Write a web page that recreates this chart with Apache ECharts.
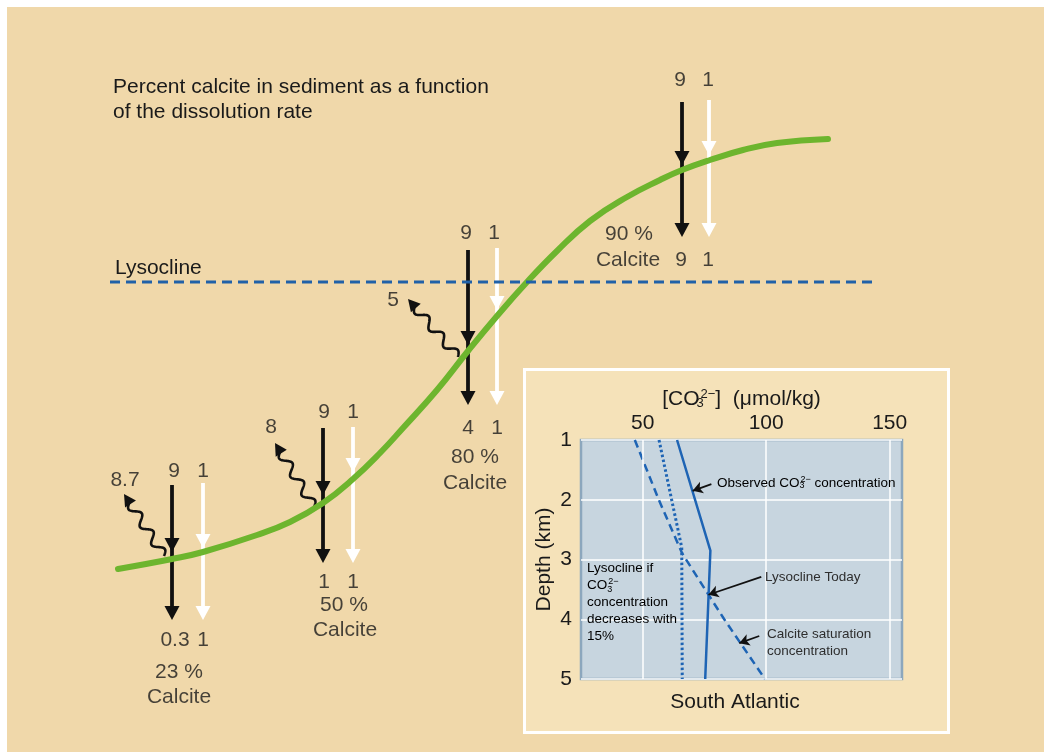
<!DOCTYPE html>
<html><head><meta charset="utf-8">
<script src="https://cdn.jsdelivr.net/npm/echarts@6/dist/echarts.min.js"></script>
<style>html,body{margin:0;padding:0;background:#fff}#c{width:1044px;height:752px}</style>
</head><body><div id="c"></div>
<script>
// ===== Main schematic (schematic canvas units) =====
const curveX = [118,172,203,257,290,323,353,380,403,437,468,497,527,557,590,627,660,682,710,743,777,828];
const curveY = [569,559,552,535,522,503,479,453,428,390,351,316,282,251,221,197,180,170,160,150,143,139];
const lysoclineX = [110, 875];
const lysoclineLevel = 282;
// vertical flux arrows (kind 0 = black, 1 = white)
const arrowX      = [172,203,323,353,468,497,682,709];
const arrowTop    = [485,483,428,427,250,248,102,100];
const arrowMid    = [552,548,495,472,345,310,165,155];
const arrowBottom = [620,620,563,563,405,405,237,237];
const arrowKind   = [0,1,0,1,0,1,0,1];
// dissolution (wavy) arrows: tail -> head
const wavyTailX = [164,314,458], wavyTailY = [556,507,357];
const wavyHeadX = [124,275,408], wavyHeadY = [494,443,299];
// text labels of the schematic
const labelText = ['8.7','9','1','0.3','1','23 %','Calcite',
                   '8','9','1','1','1','50 %','Calcite',
                   '5','9','1','4','1','80 %','Calcite',
                   '9','1','90 %','Calcite','9','1'];
const labelX = [125,174,203,175,203,179,179,
                271,324,353,324,353,344,345,
                393,466,494,468,497,475,475,
                680,708,629,628,681,708];
const labelY = [480,471,471,640,640,672,697,
                427,412,412,582,582,605,630,
                300,233,233,428,428,457,483,
                80,80,234,260,260,260];

// ===== Inset: South Atlantic =====
const co3Ticks = [50,100,150];
const depthTicks = [1,2,3,4,5];
const observedDepth = [1, 2.85, 5];
const observedCO3   = [63.9, 77.4, 75.3];
const saturationDepth = [1, 2, 2.9, 3.6, 4, 5];
const saturationCO3   = [46.8, 56.5, 66, 76.8, 83, 99.5];
const reducedDepth = [1, 2.8, 5];
const reducedCO3   = [56.6, 65.8, 66];
// note arrows in inset: [co3, depth] from -> to
const noteFrom = [[77.8,1.74],[98,3.29],[97.2,4.28]];
const noteTo   = [[70.2,1.85],[76.6,3.59],[89.1,4.4]];

const FONT = 'Liberation Sans, Arial, Helvetica, sans-serif';
const TXT = '#1a1a1a';
const coRich = {
  n:{fontSize:13.5, color:'#2e2e2e', fontFamily:FONT},
  sb:{fontSize:9, color:'#2e2e2e', width:1, verticalAlign:'bottom', padding:[6,0,0,0], fontFamily:FONT},
  sp:{fontSize:9, color:'#2e2e2e', verticalAlign:'top', padding:[0,0,6,0], fontFamily:FONT}
};
const nameRich = {
  b:{fontSize:21, color:TXT, fontFamily:FONT},
  sb:{fontSize:13, color:TXT, width:1, verticalAlign:'bottom', padding:[9,0,0,0], fontFamily:FONT},
  sp:{fontSize:13, color:TXT, verticalAlign:'top', padding:[0,0,9,0], fontFamily:FONT}
};

const chart = echarts.init(document.getElementById('c'));
chart.setOption({
  backgroundColor:'#ffffff',
  animation:false,
  textStyle:{fontFamily:FONT},
  title:{
    text:'Percent calcite in sediment as a function\nof the dissolution rate',
    left:113, top:75, padding:0,
    textStyle:{fontSize:21, fontWeight:'normal', color:TXT, lineHeight:25, fontFamily:FONT}
  },
  graphic:[
    {type:'rect', z:-10, shape:{x:7,y:7,width:1037,height:745}, style:{fill:'#F0D8AA'}},
    {type:'rect', z:-9, shape:{x:524.5,y:369.5,width:424,height:363}, style:{fill:'#F5E2B9', stroke:'#ffffff', lineWidth:3}},
    {type:'text', z:50, style:{x:735, y:702, text:'South Atlantic', fontSize:21, fill:TXT, align:'center', verticalAlign:'middle', fontFamily:FONT}},
    {type:'text', z:50, style:{x:717, y:483, text:'{n|Observed CO}{sb|3}{sp|2−}{n| concentration}', rich:coRich, align:'left', verticalAlign:'middle'}},
    {type:'text', z:50, style:{x:765, y:577, text:'Lysocline Today', fontSize:13.5, fill:'#2e2e2e', align:'left', verticalAlign:'middle', fontFamily:FONT}},
    {type:'text', z:50, style:{x:767, y:643, text:'Calcite saturation\nconcentration', fontSize:13.5, lineHeight:17, fill:'#2e2e2e', align:'left', verticalAlign:'middle', fontFamily:FONT}},
    {type:'text', z:50, style:{x:587, y:560, text:'{n|Lysocline if}\n{n|CO}{sb|3}{sp|2−}\n{n|concentration}\n{n|decreases with}\n{n|15%}', rich:Object.assign({}, coRich, {n:{fontSize:13.5,color:'#2e2e2e',lineHeight:17,fontFamily:FONT}}), align:'left', verticalAlign:'top'}}
  ],
  grid:[
    {left:0, top:0, width:1044, height:752, show:false},
    {left:581, top:440, width:321, height:239, show:true, backgroundColor:'#C7D5DF', borderColor:'#8CA7BD', borderWidth:2.5}
  ],
  xAxis:[
    {gridIndex:0, type:'value', min:0, max:1044, show:false},
    {gridIndex:1, type:'value', position:'top', min:25, max:155, interval:25,
     name:'{b|[CO}{sb|3}{sp|2−}{b|]  (μmol/kg)}', nameLocation:'middle', nameGap:30,
     nameTextStyle:{rich:nameRich},
     axisLine:{show:false}, axisTick:{show:false}, splitLine:{show:false},
     axisLabel:{fontSize:21, color:TXT, margin:6, formatter:function(v){return co3Ticks.indexOf(v)>=0?String(v):'';}}}
  ],
  yAxis:[
    {gridIndex:0, type:'value', min:0, max:752, inverse:true, show:false},
    {gridIndex:1, type:'value', inverse:true, min:1, max:5, interval:1,
     name:'Depth (km)', nameLocation:'middle', nameGap:26, nameRotate:90,
     nameTextStyle:{fontSize:21, color:TXT},
     axisLine:{show:false}, axisTick:{show:false},
     splitLine:{show:true, lineStyle:{color:'#ffffff', width:1.5}},
     axisLabel:{fontSize:21, color:TXT, margin:9, formatter:function(v){return depthTicks.indexOf(v)>=0?String(v):'';}}}
  ],
  series:[
    // ---------- inset ----------
    {type:'line', xAxisIndex:1, yAxisIndex:1, data:[], z:1, silent:true,
     markLine:{silent:true, symbol:['none','none'], label:{show:false},
       lineStyle:{color:'#ffffff', width:1.5, type:'solid'},
       data:co3Ticks.map(function(v){return {xAxis:v};})}},
    {type:'line', name:'Calcite saturation', xAxisIndex:1, yAxisIndex:1, symbol:'none', z:3,
     data:saturationCO3.map(function(v,i){return [v, saturationDepth[i]];}),
     lineStyle:{color:'#1E64B4', width:2.5, type:[8,5]}},
    {type:'line', name:'Lysocline if -15%', xAxisIndex:1, yAxisIndex:1, symbol:'none', z:3,
     data:reducedCO3.map(function(v,i){return [v, reducedDepth[i]];}),
     lineStyle:{color:'#1E64B4', width:3, type:[2.5,2.5]}},
    {type:'line', name:'Observed', xAxisIndex:1, yAxisIndex:1, symbol:'none', z:3,
     data:observedCO3.map(function(v,i){return [v, observedDepth[i]];}),
     lineStyle:{color:'#1E64B4', width:2.5},
     markLine:{silent:true, symbol:['none','arrow'], symbolSize:[9,10], label:{show:false},
       lineStyle:{color:'#111', width:1.8, type:'solid'},
       data:noteFrom.map(function(f,i){return [{coord:f},{coord:noteTo[i]}];})}},
    // ---------- main schematic ----------
    {type:'custom', xAxisIndex:0, yAxisIndex:0, z:4, silent:true,
     data:arrowX.map(function(x,i){return [x, arrowTop[i], arrowMid[i], arrowBottom[i], arrowKind[i]];}),
     renderItem:function(params, api){
       var x = api.value(0);
       var p0 = api.coord([x, api.value(1)]);
       var pm = api.coord([x, api.value(2)]);
       var pb = api.coord([x, api.value(3)]);
       var col = api.value(4) ? '#ffffff' : '#111111';
       var hw = 7.5, hl = 14;
       return {type:'group', children:[
         {type:'line', shape:{x1:p0[0],y1:p0[1],x2:pb[0],y2:pb[1]-hl+2}, style:{stroke:col, lineWidth:3.8}},
         {type:'polygon', shape:{points:[[pm[0]-hw,pm[1]-hl],[pm[0]+hw,pm[1]-hl],[pm[0],pm[1]]]}, style:{fill:col}},
         {type:'polygon', shape:{points:[[pb[0]-hw,pb[1]-hl],[pb[0]+hw,pb[1]-hl],[pb[0],pb[1]]]}, style:{fill:col}}
       ]};
     }},
    {type:'custom', xAxisIndex:0, yAxisIndex:0, z:4, silent:true,
     data:wavyTailX.map(function(x,i){return [x, wavyTailY[i], wavyHeadX[i], wavyHeadY[i]];}),
     renderItem:function(params, api){
       var t = api.coord([api.value(0), api.value(1)]);
       var h = api.coord([api.value(2), api.value(3)]);
       var dx = h[0]-t[0], dy = h[1]-t[1], L = Math.sqrt(dx*dx+dy*dy);
       var ux = dx/L, uy = dy/L, nx = -uy, ny = ux;
       var head = 12, amp = 4.5, periods = 3, Lw = L - head + 2;
       var pts = [];
       for (var k=0;k<=120;k++){
         var s = k/120*Lw, w = amp*Math.sin(2*Math.PI*periods*s/Lw);
         pts.push([t[0]+ux*s+nx*w, t[1]+uy*s+ny*w]);
       }
       var bx = h[0]-ux*head, by = h[1]-uy*head;
       return {type:'group', children:[
         {type:'polyline', shape:{points:pts}, style:{stroke:'#111', lineWidth:2.6, fill:null}},
         {type:'polygon', shape:{points:[[h[0],h[1]],[bx+nx*6.5,by+ny*6.5],[bx-nx*6.5,by-ny*6.5]]}, style:{fill:'#111'}}
       ]};
     }},
    {type:'line', name:'Percent calcite', xAxisIndex:0, yAxisIndex:0, symbol:'none', smooth:0.45, z:5, silent:true,
     data:curveX.map(function(x,i){return [x, curveY[i]];}),
     lineStyle:{color:'#6DB52E', width:6, cap:'round'}},
    {type:'line', name:'Lysocline', xAxisIndex:0, yAxisIndex:0, symbol:'none', z:6, silent:true,
     data:lysoclineX.map(function(x){return [x, lysoclineLevel];}),
     lineStyle:{color:'#2061A8', width:3, type:[10,6]},
     markPoint:{symbol:'circle', symbolSize:0, silent:true,
       label:{show:true, position:'right', distance:0, offset:[5,-14], formatter:'Lysocline', fontSize:21, color:TXT, fontFamily:FONT},
       data:[{coord:[lysoclineX[0], lysoclineLevel]}]}},
    {type:'scatter', xAxisIndex:0, yAxisIndex:0, symbolSize:0, z:7, silent:true,
     data:labelText.map(function(s,i){return {name:s, value:[labelX[i], labelY[i]]};}),
     label:{show:true, position:'inside', formatter:'{b}', fontSize:21, color:TXT, fontFamily:FONT}}
  ]
});
</script></body></html>
